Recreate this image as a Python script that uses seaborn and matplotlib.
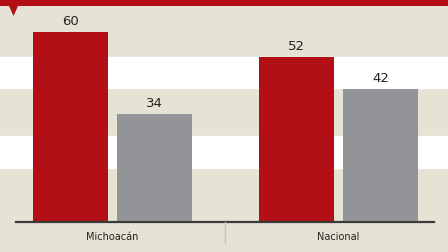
import matplotlib
matplotlib.use("Agg")
import matplotlib.pyplot as plt
import seaborn as sns
import pandas as pd
from matplotlib.patches import Polygon, Rectangle

categories = ["Michoacán", "Nacional"]
series = ["Serie 1", "Serie 2"]
values_s1 = [60, 52]
values_s2 = [34, 42]
band_ranges = [(42.2, 52.0), (17.2, 27.3)]

df = pd.DataFrame({
    "region": categories * 2,
    "serie": [series[0]] * 2 + [series[1]] * 2,
    "valor": values_s1 + values_s2,
})

BG = "#e6e3d5"
RED = "#b21016"
GRAY = "#939497"

sns.set_theme(style="white")
plt.rcParams["font.family"] = ["DejaVu Sans"]

fig = plt.figure(figsize=(4.48, 2.52), dpi=100, facecolor=BG)
ax = fig.add_axes([16 / 448, 30 / 252, 418 / 448, 222 / 252])
ax.set_facecolor(BG)

sns.barplot(data=df, x="region", y="valor", hue="serie", order=categories,
            hue_order=series, palette=[RED, GRAY], width=0.743, gap=0.107,
            saturation=1, legend=False, ax=ax, zorder=3, linewidth=0)

ax.set_xlim(-0.427, 1.423)
ax.set_ylim(0, 70.1)

# white bands across the whole figure width
for lo, hi in band_ranges:
    ax.axhspan(lo, hi, xmin=-1, xmax=2, color="white", zorder=0, clip_on=False)

for c in ax.containers:
    ax.bar_label(c, fmt="%d", padding=3, fontsize=9.5, color="#222222")

for s in ["top", "right", "left"]:
    ax.spines[s].set_visible(False)
ax.spines["bottom"].set_color("#3a3a3a")
ax.spines["bottom"].set_linewidth(1.6)
ax.spines["bottom"].set_zorder(5)

ax.set_yticks([])
ax.set_xticks([0, 1])
ax.set_xticklabels(categories, fontsize=7, color="#222222")
ax.tick_params(axis="x", length=0, pad=7)
ax.set_xlabel("")
ax.set_ylabel("")

# vertical separator below axis
fig.add_artist(plt.Line2D([225 / 448, 225 / 448], [(252 - 222) / 252, (252 - 243) / 252],
                          color="#c8c6bc", linewidth=1.0))

# top red banner with pointer
fig.add_artist(Rectangle((0, 1 - 6 / 252), 1, 6 / 252, transform=fig.transFigure,
                         facecolor=RED, edgecolor="none"))
fig.add_artist(Polygon([[9 / 448, 1 - 6 / 252], [18 / 448, 1 - 6 / 252], [13.5 / 448, 1 - 16 / 252]],
                       closed=True, transform=fig.transFigure, facecolor=RED, edgecolor="none"))

fig.savefig("out.png", dpi=100, facecolor=BG)
